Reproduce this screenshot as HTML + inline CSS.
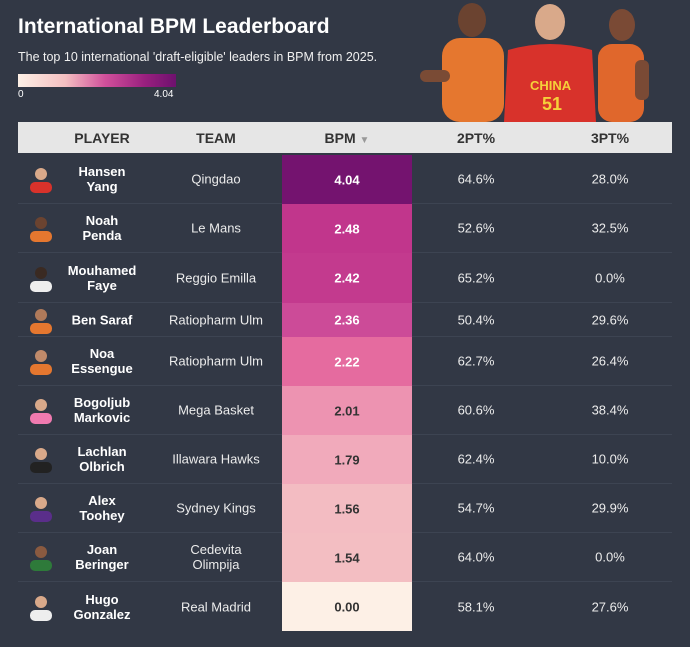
<!DOCTYPE html>
<html><head><meta charset="utf-8"><style>
body{margin:0;width:690px;height:647px;background:#323845;font-family:"Liberation Sans",Arial,sans-serif;overflow:hidden;position:relative;color:#fff}
.t{position:absolute;left:18px;top:15px;font-size:21px;font-weight:bold;color:#fff}
.s{position:absolute;left:18px;top:50px;font-size:12.5px;color:#f0f0f0}
.lg{position:absolute;left:18px;top:74px;width:158px;height:13px;background:linear-gradient(90deg,#fdf0e6,#f4bfc1 30%,#d1509b 55%,#9a207f 80%,#6e116e)}
.l0{position:absolute;left:18px;top:89px;font-size:10px}
.l1{position:absolute;left:154px;top:89px;font-size:10px}
.hd{position:absolute;left:18px;top:122px;width:654px;height:31px;background:#e6e6e6;color:#333;font-weight:bold;font-size:14px}
.hd span,.r span{position:absolute;transform:translateX(-50%);white-space:nowrap;text-align:center}
.hd span{top:8px}
.r{position:absolute;left:18px;width:654px;border-bottom:1px solid #3d4452}
.r span{top:50%;transform:translate(-50%,-50%);font-size:13px;color:#ececec}
.r span.nm{font-weight:bold;line-height:15px;color:#fff}
.bp{position:absolute;left:264px;width:130px;top:0;bottom:-1px}
.bp b{position:absolute;left:50%;top:50%;transform:translate(-50%,-50%);font-size:13px}
.av{position:absolute;left:10px;top:50%;width:26px;height:28px;transform:translateY(-50%)}
</style></head><body>
<div class="t">International BPM Leaderboard</div>
<div class="s">The top 10 international 'draft-eligible' leaders in BPM from 2025.</div>
<div class="lg"></div><div class="l0">0</div><div class="l1">4.04</div>
<svg style="position:absolute;left:410px;top:0" width="260" height="122">
<ellipse cx="62" cy="20" rx="14" ry="17" fill="#6b4330"/><rect x="32" y="38" width="62" height="84" rx="18" fill="#e5772f"/><rect x="10" y="70" width="30" height="12" rx="6" fill="#7a4b35"/>
<ellipse cx="140" cy="22" rx="15" ry="18" fill="#d9a98a"/><path d="M98 50 Q140 38 182 50 L186 122 L94 122Z" fill="#d8322b"/><text x="120" y="90" font-size="13" font-weight="bold" fill="#f5d03a" font-family="Liberation Sans">CHINA</text><text x="132" y="110" font-size="18" font-weight="bold" fill="#f5d03a" font-family="Liberation Sans">51</text>
<ellipse cx="212" cy="25" rx="13" ry="16" fill="#7a4a35"/><rect x="188" y="44" width="46" height="78" rx="14" fill="#e0672c"/><rect x="225" y="60" width="14" height="40" rx="6" fill="#7a4a35"/>
</svg>
<div class="hd"><span style="left:84px">PLAYER</span><span style="left:198px">TEAM</span><span style="left:329px">BPM <span style="position:static;transform:none;color:#999;font-size:10px">▼</span></span><span style="left:458px">2PT%</span><span style="left:592px">3PT%</span></div>

<div class="r" style="top:155px;height:48px"><div class="av"><svg width="26" height="28"><circle cx="13" cy="9" r="6" fill="#d9a98a"/><rect x="2" y="17" width="22" height="11" rx="5" fill="#d8322b"/></svg></div><span class="nm" style="left:84px">Hansen<br>Yang</span><span style="left:198px">Qingdao</span><div class="bp" style="background:#74136f"><b style="color:#fff">4.04</b></div><span style="left:458px">64.6%</span><span style="left:592px">28.0%</span></div>
<div class="r" style="top:204px;height:48px"><div class="av"><svg width="26" height="28"><circle cx="13" cy="9" r="6" fill="#6b4330"/><rect x="2" y="17" width="22" height="11" rx="5" fill="#e5772f"/></svg></div><span class="nm" style="left:84px">Noah<br>Penda</span><span style="left:198px">Le Mans</span><div class="bp" style="background:#c1368c"><b style="color:#fff">2.48</b></div><span style="left:458px">52.6%</span><span style="left:592px">32.5%</span></div>
<div class="r" style="top:253px;height:49px"><div class="av"><svg width="26" height="28"><circle cx="13" cy="9" r="6" fill="#3a2a22"/><rect x="2" y="17" width="22" height="11" rx="5" fill="#eee"/></svg></div><span class="nm" style="left:84px">Mouhamed<br>Faye</span><span style="left:198px">Reggio Emilla</span><div class="bp" style="background:#c33a8e"><b style="color:#fff">2.42</b></div><span style="left:458px">65.2%</span><span style="left:592px">0.0%</span></div>
<div class="r" style="top:303px;height:33px"><div class="av"><svg width="26" height="28"><circle cx="13" cy="9" r="6" fill="#b07a5a"/><rect x="2" y="17" width="22" height="11" rx="5" fill="#e5772f"/></svg></div><span class="nm" style="left:84px">Ben Saraf</span><span style="left:198px">Ratiopharm Ulm</span><div class="bp" style="background:#cc4b98"><b style="color:#fff">2.36</b></div><span style="left:458px">50.4%</span><span style="left:592px">29.6%</span></div>
<div class="r" style="top:337px;height:48px"><div class="av"><svg width="26" height="28"><circle cx="13" cy="9" r="6" fill="#c08a6a"/><rect x="2" y="17" width="22" height="11" rx="5" fill="#e5772f"/></svg></div><span class="nm" style="left:84px">Noa<br>Essengue</span><span style="left:198px">Ratiopharm Ulm</span><div class="bp" style="background:#e56b9f"><b style="color:#fff">2.22</b></div><span style="left:458px">62.7%</span><span style="left:592px">26.4%</span></div>
<div class="r" style="top:386px;height:48px"><div class="av"><svg width="26" height="28"><circle cx="13" cy="9" r="6" fill="#d9a98a"/><rect x="2" y="17" width="22" height="11" rx="5" fill="#f07ab0"/></svg></div><span class="nm" style="left:84px">Bogoljub<br>Markovic</span><span style="left:198px">Mega Basket</span><div class="bp" style="background:#ed93b1"><b style="color:#333">2.01</b></div><span style="left:458px">60.6%</span><span style="left:592px">38.4%</span></div>
<div class="r" style="top:435px;height:48px"><div class="av"><svg width="26" height="28"><circle cx="13" cy="9" r="6" fill="#d9a98a"/><rect x="2" y="17" width="22" height="11" rx="5" fill="#222"/></svg></div><span class="nm" style="left:84px">Lachlan<br>Olbrich</span><span style="left:198px">Illawara Hawks</span><div class="bp" style="background:#f1aabb"><b style="color:#333">1.79</b></div><span style="left:458px">62.4%</span><span style="left:592px">10.0%</span></div>
<div class="r" style="top:484px;height:48px"><div class="av"><svg width="26" height="28"><circle cx="13" cy="9" r="6" fill="#d9a98a"/><rect x="2" y="17" width="22" height="11" rx="5" fill="#5a2e8a"/></svg></div><span class="nm" style="left:84px">Alex<br>Toohey</span><span style="left:198px">Sydney Kings</span><div class="bp" style="background:#f3bcc2"><b style="color:#333">1.56</b></div><span style="left:458px">54.7%</span><span style="left:592px">29.9%</span></div>
<div class="r" style="top:533px;height:48px"><div class="av"><svg width="26" height="28"><circle cx="13" cy="9" r="6" fill="#8a5a40"/><rect x="2" y="17" width="22" height="11" rx="5" fill="#2e7a3a"/></svg></div><span class="nm" style="left:84px">Joan<br>Beringer</span><span style="left:198px;line-height:15px">Cedevita<br>Olimpija</span><div class="bp" style="background:#f3bec2"><b style="color:#333">1.54</b></div><span style="left:458px">64.0%</span><span style="left:592px">0.0%</span></div>
<div class="r" style="top:582px;height:49px;border-bottom:none"><div class="av"><svg width="26" height="28"><circle cx="13" cy="9" r="6" fill="#d9a98a"/><rect x="2" y="17" width="22" height="11" rx="5" fill="#eee"/></svg></div><span class="nm" style="left:84px">Hugo<br>Gonzalez</span><span style="left:198px">Real Madrid</span><div class="bp" style="background:#fdf0e6;bottom:0"><b style="color:#333">0.00</b></div><span style="left:458px">58.1%</span><span style="left:592px">27.6%</span></div>
</body></html>
